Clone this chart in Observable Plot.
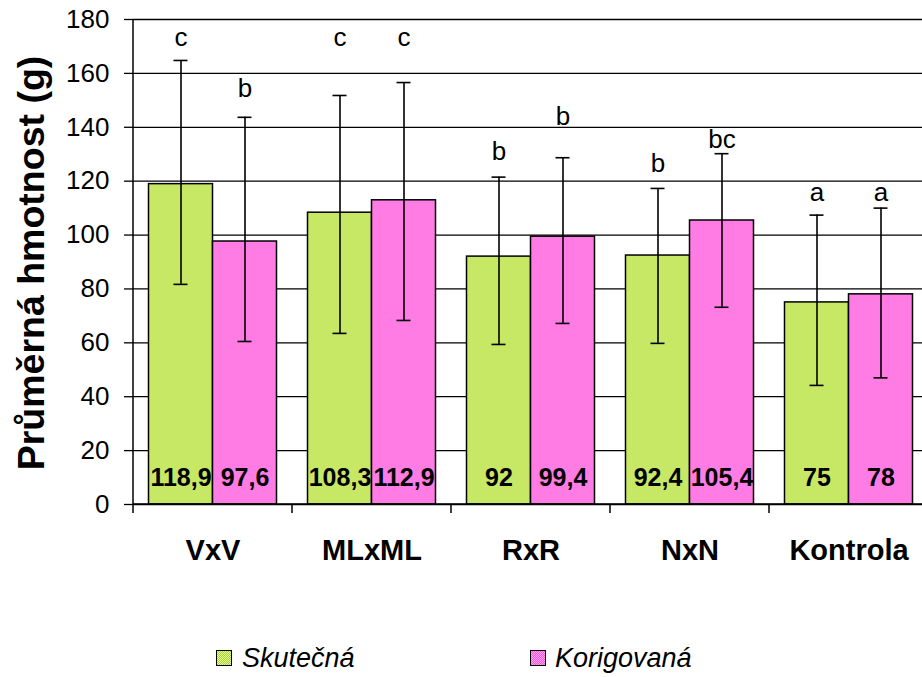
<!DOCTYPE html>
<html><head><meta charset="utf-8">
<script src="https://cdn.jsdelivr.net/npm/d3@7"></script>
<script src="https://cdn.jsdelivr.net/npm/@observablehq/plot@0.6"></script>
<style>
body{margin:0;background:#fff;font-family:"Liberation Sans",Arial,sans-serif;}
#chart svg{display:block;}
#legend{position:relative;height:47px;width:922px;overflow:hidden;}
.sw{position:absolute;width:14px;height:14px;border:1px solid #000;top:20px;}
.lt{position:absolute;top:12px;font-style:italic;font-size:27px;line-height:32px;color:#000;}
</style></head><body>
<div id="chart"></div>
<div id="legend">
  <div class="sw" style="left:216px;background:repeating-conic-gradient(#a2d62e 0 25%, #ecf99c 0 50%) 0 0/2px 2px;"></div>
  <div class="lt" style="left:242px;">Skutečná</div>
  <div class="sw" style="left:530px;background:repeating-conic-gradient(#ff55da 0 25%, #ffa4ee 0 50%) 0 0/2px 2px;"></div>
  <div class="lt" style="left:555px;">Korigovaná</div>
</div>
<script>
const categories = ["VxV", "MLxML", "RxR", "NxN", "Kontrola"];
const seriesNames = ["Skutečná", "Korigovaná"];
const skutecna = [118.9, 108.3, 92, 92.4, 75];
const korigovana = [97.6, 112.9, 99.4, 105.4, 78];
const skutecnaLabels = ["118,9", "108,3", "92", "92,4", "75"];
const korigovanaLabels = ["97,6", "112,9", "99,4", "105,4", "78"];
const skutecnaLow = [81.7, 63.5, 59.4, 59.8, 44.2];
const skutecnaHigh = [164.8, 151.8, 121.5, 117.3, 107.4];
const korigovanaLow = [60.5, 68.3, 67.2, 73.2, 47];
const korigovanaHigh = [143.7, 156.6, 128.7, 130.2, 110];
const skutecnaLetters = ["c", "c", "b", "b", "a"];
const korigovanaLetters = ["b", "c", "b", "bc", "a"];
const skutecnaLetterY = [173.3, 173.3, 130.8, 126.5, 115.6];
const korigovanaLetterY = [154.4, 173.3, 144.1, 135.3, 115.6];
const yTicks = [0, 20, 40, 60, 80, 100, 120, 140, 160, 180];
const yTitle = "Průměrná hmotnost (g)";

const rows = [];
categories.forEach((c, i) => {
  rows.push({cat: c, series: seriesNames[0], value: skutecna[i], label: skutecnaLabels[i], lo: skutecnaLow[i], hi: skutecnaHigh[i], letter: skutecnaLetters[i], letterY: skutecnaLetterY[i]});
  rows.push({cat: c, series: seriesNames[1], value: korigovana[i], label: korigovanaLabels[i], lo: korigovanaLow[i], hi: korigovanaHigh[i], letter: korigovanaLetters[i], letterY: korigovanaLetterY[i]});
});

const font = "'Liberation Sans', Arial, sans-serif";
const plot = Plot.plot({
  width: 922, height: 630,
  marginLeft: 131.5, marginRight: -7.5, marginTop: 19, marginBottom: 126,
  style: {fontFamily: font, background: "white", color: "#000"},
  fx: {domain: categories, padding: 0, axis: null},
  x: {domain: seriesNames, paddingInner: 0, paddingOuter: 0.236, axis: null},
  y: {domain: [0, 180], axis: null},
  color: {domain: seriesNames, range: ["url(#patS)", "url(#patK)"]},
  marks: [
    Plot.gridY(yTicks, {stroke: "#000", strokeOpacity: 1, strokeWidth: 1.3}),
    Plot.barY(rows, {fx: "cat", x: "series", y: "value", fill: "series", stroke: "#000", strokeWidth: 1.5}),
    Plot.ruleX(rows, {fx: "cat", x: "series", y1: "lo", y2: "hi", stroke: "#000", strokeWidth: 1.6}),
    Plot.tickY(rows, {fx: "cat", x: "series", y: "hi", insetLeft: 25, insetRight: 25, stroke: "#000", strokeWidth: 1.6}),
    Plot.tickY(rows, {fx: "cat", x: "series", y: "lo", insetLeft: 25, insetRight: 25, stroke: "#000", strokeWidth: 1.6}),
    Plot.text(rows, {fx: "cat", x: "series", y: "letterY", text: "letter", fontSize: 26, fill: "#000"}),
    Plot.text(rows, {fx: "cat", x: "series", y: () => 0, text: "label", fontSize: 25, fontWeight: "bold", dy: -26.5, fill: "#000"}),
    Plot.axisY(yTicks, {tickSize: 9, tickPadding: 15, fontSize: 26, tickFormat: d => String(d), label: null, stroke: "#000", strokeWidth: 1.3}),
    Plot.axisFx({anchor: "bottom", tickSize: 0, tickPadding: 35, fontSize: 29, fontWeight: "bold", label: null}),
    Plot.text([yTitle], {fx: () => categories[0], frameAnchor: "left", textAnchor: "middle", rotate: -90, dx: -102, dy: 1, fontSize: 37.5, fontWeight: "bold", fill: "#000"})
  ]
});

const svg = d3.select(plot);
const defs = svg.insert("defs", ":first-child");
function pattern(id, light, dark) {
  const p = defs.append("pattern").attr("id", id).attr("width", 2).attr("height", 2).attr("patternUnits", "userSpaceOnUse");
  p.append("rect").attr("width", 2).attr("height", 2).attr("fill", light);
  p.append("rect").attr("width", 1).attr("height", 1).attr("fill", dark);
  p.append("rect").attr("x", 1).attr("y", 1).attr("width", 1).attr("height", 1).attr("fill", dark);
}
pattern("patS", "#ecf99c", "#a2d62e");
pattern("patK", "#ffa4ee", "#ff55da");

// axis line and category boundary ticks, positioned by the Plot scales
const fxS = plot.scale("fx"), yS = plot.scale("y");
const y0 = yS.apply(0), yTop = yS.apply(180);
const bounds = categories.map(c => fxS.apply(c));
bounds.push(bounds[bounds.length - 1] + fxS.bandwidth);
const g = svg.append("g").attr("stroke", "#000").attr("stroke-width", 1.5);
g.append("line").attr("x1", bounds[0]).attr("x2", bounds[0]).attr("y1", yTop).attr("y2", y0 + 9);
bounds.slice(1).forEach(b => g.append("line").attr("x1", b).attr("x2", b).attr("y1", y0).attr("y2", y0 + 9));
g.append("line").attr("x1", bounds[0]).attr("x2", bounds[bounds.length - 1]).attr("y1", y0).attr("y2", y0);

document.getElementById("chart").appendChild(plot);
</script>
</body></html>
